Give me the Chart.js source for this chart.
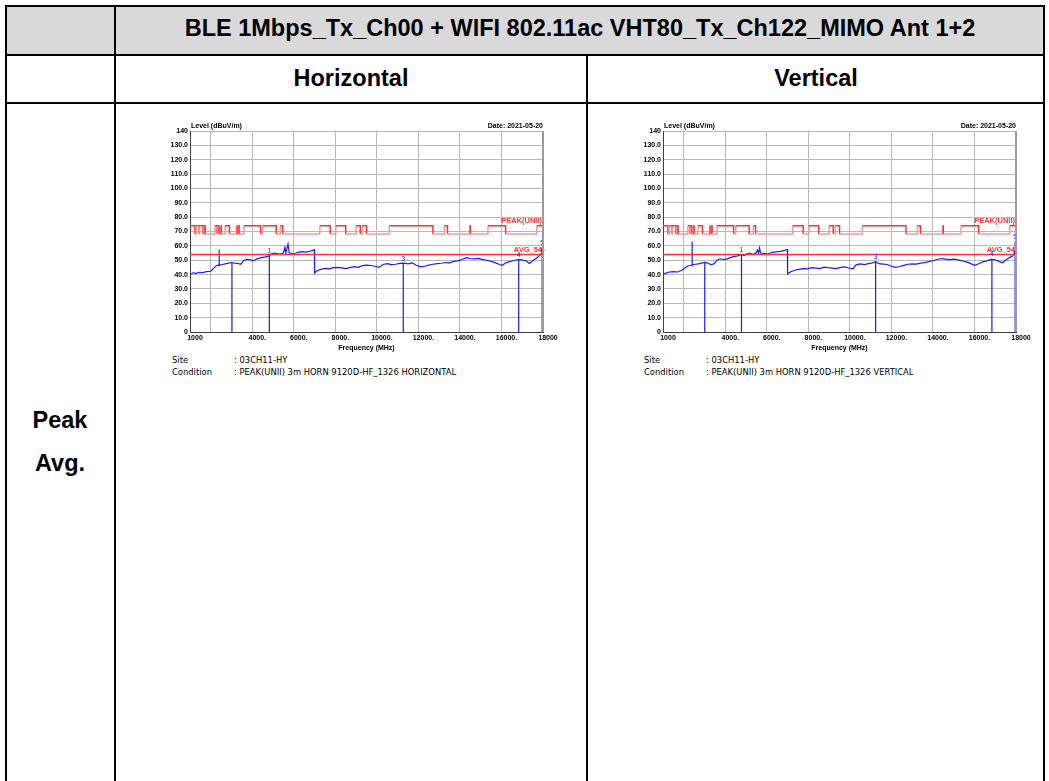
<!DOCTYPE html>
<html lang="en">
<head>
<meta charset="UTF-8">
<title>BLE 1Mbps + WIFI VHT80 radiated emission</title>
<script src="https://cdn.jsdelivr.net/npm/chart.js"></script>
<style>
  body {
    margin: 0;
    width: 1049px;
    height: 781px;
    overflow: hidden;
    background: #fff;
    position: relative;
    font-family: "Liberation Sans", Arial, sans-serif;
  }
  .rule { position: absolute; background: #000; }
  .head { position: absolute; left: 5px; top: 5px; width: 1040px; height: 50px; background: #d9d9d9; }
  .cap {
    position: absolute;
    font-weight: bold;
    font-size: 23.5px;
    text-align: center;
    white-space: nowrap;
  }
  canvas { position: absolute; }
  .info {
    position: absolute;
    font-family: "DejaVu Sans", sans-serif;
    font-size: 8.4px;
    line-height: 12px;
    color: #000;
    white-space: nowrap;
  }
  .info span { display: inline-block; }
  .info .k { width: 62px; }
</style>
</head>
<body>
  <div class="head"></div>

  <!-- table rules -->
  <div class="rule" style="left:5px;top:5px;width:1040px;height:2px"></div>
  <div class="rule" style="left:5px;top:54px;width:1040px;height:2px"></div>
  <div class="rule" style="left:5px;top:102px;width:1040px;height:2px"></div>
  <div class="rule" style="left:5px;top:5px;width:2px;height:776px"></div>
  <div class="rule" style="left:114px;top:5px;width:2px;height:776px"></div>
  <div class="rule" style="left:586px;top:55px;width:2px;height:726px"></div>
  <div class="rule" style="left:1043px;top:5px;width:2px;height:776px"></div>

  <div class="cap" style="left:115px;width:930px;top:15px">BLE 1Mbps_Tx_Ch00 + WIFI 802.11ac VHT80_Tx_Ch122_MIMO Ant 1+2</div>
  <div class="cap" style="left:115px;width:472px;top:65px">Horizontal</div>
  <div class="cap" style="left:587px;width:458px;top:65px">Vertical</div>
  <div class="cap" style="left:5px;width:110px;top:407px">Peak</div>
  <div class="cap" style="left:5px;width:110px;top:450px">Avg.</div>

  <canvas id="horChart" width="420" height="240" style="left:140px;top:112px"></canvas>
  <canvas id="verChart" width="420" height="240" style="left:613px;top:112px"></canvas>

  <div class="info" style="left:172px;top:354px">
    <div><span class="k">Site</span><span id="hSite"></span></div>
    <div><span class="k">Condition</span><span id="hCond"></span></div>
  </div>
  <div class="info" style="left:644px;top:354px">
    <div><span class="k">Site</span><span id="vSite"></span></div>
    <div><span class="k">Condition</span><span id="vCond"></span></div>
  </div>

<script>
// axis ticks
const xTicks = [1000, 2000, 4000, 6000, 8000, 10000, 12000, 14000, 16000, 18000];
const xTickLabels = ['1000', '', '4000.', '6000.', '8000.', '10000.', '12000.', '14000.', '16000.', '18000'];
const yTicks = [0, 10, 20, 30, 40, 50, 60, 70, 80, 90, 100, 110, 120, 130, 140];
const yTickLabels = ['0', '10.0', '20.0', '30.0', '40.0', '50.0', '60.0', '70.0', '80.0', '90.0',
  '100.0', '110.0', '120.0', '130.0', '140'];

// peak limit (UNII), level starts at each edge and holds to the next one
const limitFreq = [1000, 1240, 1300, 1427, 1435, 1626.5, 1645.5, 1646.5, 1660, 1710, 1718.8, 1722.2,
  2200, 2300, 2310, 2390, 2483.5, 2500, 2690, 2900, 3260, 3267, 3332, 3339, 3345.8, 3358,
  3600, 4400, 4500, 5150, 5350, 5460, 7250, 7750, 8025, 8500, 9000, 9200, 9300, 9500,
  10600, 12700, 13250, 13400, 14470, 14500, 15350, 16200, 17700, 18000];
const limitLevel = [74, 68.2, 74, 68.2, 74, 68.2, 74, 68.2, 74, 68.2, 74, 68.2,
  74, 68.2, 74, 68.2, 74, 68.2, 74, 68.2, 74, 68.2, 74, 68.2, 74, 68.2,
  74, 68.2, 74, 68.2, 74, 68.2, 74, 68.2, 74, 68.2, 74, 68.2, 74, 68.2,
  74, 68.2, 74, 68.2, 74, 68.2, 74, 68.2, 74, 74];
const avgLimit = 54;

// horizontal polarisation sweep
const hFreq = [1000, 1150, 1300, 1450, 1600, 1800, 2000, 2150, 2250, 2350, 2400, 2402, 2410, 2550, 2700,
  2850, 3000, 3150, 3300, 3450, 3600, 3750, 3900, 4050, 4200, 4350, 4500, 4650, 4800, 4950,
  5100, 5250, 5400, 5500, 5570, 5620, 5720, 5780, 6000, 6200, 6400, 6600, 6800, 6950, 6990,
  7000, 7100, 7300, 7500, 7700, 7900, 8100, 8300, 8500, 8700, 8900, 9100, 9300, 9500, 9700,
  9900, 10100, 10300, 10500, 10700, 10900, 11100, 11300, 11500, 11700, 11900, 12100, 12300,
  12500, 12700, 12900, 13100, 13300, 13500, 13700, 13900, 14100, 14300, 14500, 14700, 14900,
  15100, 15300, 15500, 15700, 15900, 16050, 16200, 16400, 16600, 16800, 17000, 17200, 17350,
  17500, 17700, 17850, 17950, 18000];
const hLevel = [40.0, 41.2, 40.8, 41.6, 41.3, 42.0, 42.3, 44.5, 46.0, 46.5, 46.2, 57.5, 46.5, 47.0, 47.5,
  48.0, 48.4, 48.0, 47.8, 47.2, 50.0, 50.6, 50.2, 49.5, 50.8, 51.5, 52.0, 52.3, 53.0, 54.6,
  55.0, 54.2, 54.5, 55.2, 59.0, 55.0, 61.3, 55.2, 54.2, 55.5, 56.0, 55.6, 56.4, 57.0, 57.3,
  41.0, 42.5, 43.6, 44.3, 44.0, 44.8, 45.0, 44.6, 44.2, 44.8, 45.5, 45.0, 46.2, 46.6, 46.3,
  45.8, 45.0, 47.0, 47.6, 47.0, 47.2, 47.8, 48.0, 47.5, 48.2, 46.5, 45.4, 45.8,
  46.6, 47.2, 47.6, 47.9, 48.4, 48.2, 49.2, 49.5, 50.5, 51.8, 51.2, 51.0, 51.3,
  50.4, 50.0, 49.2, 48.3, 47.0, 46.5, 48.2, 49.0, 49.8, 50.5, 50.2, 49.5, 47.8,
  49.6, 51.5, 53.5, 55.0, 57.0];
const hMarkFreq = [3020, 4820, 11270, 16830, 17960, 17990];
const hMarkLevel = [48.4, 53.0, 48.0, 50.5, 59.0, 54.0];
const hMarkLabel = ['', '1', '3', '4', '5', '6'];

// vertical polarisation sweep
const vFreq = [1000, 1150, 1300, 1500, 1700, 1900, 2050, 2200, 2350, 2400, 2402, 2410, 2550, 2700,
  2850, 3000, 3150, 3300, 3450, 3600, 3750, 3900, 4050, 4250, 4400, 4600, 4780, 4900, 5050,
  5200, 5350, 5500, 5540, 5600, 5650, 5700, 5900, 6050, 6250, 6450, 6650, 6850, 6990,
  7000, 7150, 7350, 7550, 7750, 7950, 8150, 8350, 8550, 8750, 8950, 9150, 9350, 9550, 9750,
  9950, 10150, 10300, 10500, 10700, 10900, 11100, 11250, 11400, 11600, 11800, 12000, 12200,
  12400, 12600, 12800, 13000, 13200, 13400, 13600, 13800, 14000, 14200, 14400, 14600, 14800,
  15000, 15200, 15400, 15600, 15800, 16000, 16200, 16400, 16600, 16800, 17000, 17200, 17350,
  17500, 17700, 17850, 17950, 18000];
const vLevel = [40.2, 41.0, 41.8, 42.0, 41.8, 43.0, 44.5, 46.0, 46.5, 47.0, 63.0, 46.8, 47.2, 47.5,
  48.0, 48.5, 48.2, 47.0, 47.4, 50.0, 51.0, 50.5, 50.8, 51.8, 52.5, 53.0, 54.0, 53.2, 54.5,
  55.0, 54.0, 55.5, 57.0, 55.0, 58.5, 55.0, 54.6, 54.2, 55.5, 55.8, 56.2, 56.8, 57.5,
  40.5, 42.0, 43.0, 43.6, 44.2, 44.0, 44.8, 44.5, 44.2, 45.2, 44.8, 44.5, 44.2, 45.0, 45.3,
  44.6, 44.0, 46.8, 47.4, 46.9, 47.6, 48.2, 49.0, 47.6, 47.3, 47.0, 45.8, 45.0,
  45.6, 46.4, 47.2, 47.5, 47.3, 48.0, 48.3, 49.0, 49.6, 50.5, 51.2, 50.8, 50.4,
  50.8, 50.2, 49.6, 48.8, 47.8, 46.5, 47.5, 48.8, 49.5, 50.6, 50.3, 49.0, 48.2,
  50.0, 52.0, 53.0, 56.0, 58.0];
const vMarkFreq = [3010, 4780, 11240, 16840, 17960, 17990];
const vMarkLevel = [48.5, 54.0, 49.0, 51.0, 63.0, 52.0];
const vMarkLabel = ['', '1', '3', '4', '5', '6'];

const siteText = ': 03CH11-HY';
const hCondText = ': PEAK(UNII) 3m HORN 9120D-HF_1326 HORIZONTAL';
const vCondText = ': PEAK(UNII) 3m HORN 9120D-HF_1326 VERTICAL';
const levelTitle = 'Level (dBuV/m)';
const dateText = 'Date: 2021-05-20';

const traceBlue = '#1a1aff';
const limitRed = '#ff3030';
const limitPink = '#f59a9a';

document.getElementById('hSite').textContent = siteText;
document.getElementById('vSite').textContent = siteText;
document.getElementById('hCond').textContent = hCondText;
document.getElementById('vCond').textContent = vCondText;

const zip = (xs, ys) => xs.map((x, i) => ({ x: x, y: ys[i] }));

// vertical marker lines from the floor up to the marker level, split by gaps
function markerLines(freqs, levels) {
  const pts = [];
  freqs.forEach((f, i) => {
    pts.push({ x: f, y: 0 }, { x: f, y: levels[i] }, { x: f, y: null });
  });
  return pts;
}

// header texts, limit names and marker numbers
const overlayText = {
  id: 'overlayText',
  afterDatasetsDraw(chart, args, opts) {
    const { ctx, chartArea: a } = chart;
    const x = chart.scales.x, y = chart.scales.y;
    ctx.save();
    ctx.font = 'bold 7px "Liberation Sans"';
    ctx.textBaseline = 'bottom';
    ctx.fillStyle = '#000';
    ctx.textAlign = 'left';
    ctx.fillText(levelTitle, a.left + 1, a.top - 1);
    ctx.textAlign = 'right';
    ctx.fillText(dateText, a.right, a.top - 1);
    ctx.font = 'bold 7.5px "Liberation Sans"';
    ctx.fillStyle = limitRed;
    ctx.fillText('PEAK(UNII)', a.right - 1, y.getPixelForValue(74) - 1);
    ctx.fillText('AVG_' + avgLimit, a.right - 1, y.getPixelForValue(avgLimit) - 1);

    ctx.font = '7px "Liberation Sans"';
    ctx.fillStyle = traceBlue;
    ctx.textAlign = 'center';
    opts.freqs.forEach((f, i) => {
      if (!opts.labels[i]) return;
      ctx.fillText(opts.labels[i], x.getPixelForValue(f), y.getPixelForValue(opts.levels[i]) - 1);
    });

    // heavier grey right edge of the plot frame
    ctx.strokeStyle = '#9a9a9a';
    ctx.lineWidth = 2;
    ctx.beginPath();
    ctx.moveTo(a.right, a.top);
    ctx.lineTo(a.right, a.bottom);
    ctx.stroke();
    ctx.restore();
  }
};

function makeChart(id, freq, level, markFreq, markLevel, markLabel) {
  return new Chart(document.getElementById(id), {
    type: 'line',
    data: {
      datasets: [
        {
          data: zip(limitFreq, limitLevel),
          stepped: 'before',
          borderWidth: 1.5,
          borderColor: limitRed,
          segment: {
            borderColor: c => c.p0.parsed.y > 70 ? limitRed : limitPink
          }
        },
        {
          data: [{ x: 1000, y: avgLimit }, { x: 18000, y: avgLimit }],
          borderWidth: 1.5,
          borderColor: limitRed
        },
        {
          data: markerLines(markFreq, markLevel),
          borderWidth: 1.2,
          borderColor: traceBlue,
          spanGaps: false
        },
        {
          data: zip(freq, level),
          borderWidth: 1.2,
          borderColor: traceBlue
        }
      ]
    },
    options: {
      responsive: false,
      animation: false,
      events: [],
      elements: { point: { radius: 0 }, line: { tension: 0 } },
      layout: { padding: { left: 0, right: 17, top: 19, bottom: 0 } },
      plugins: {
        legend: { display: false },
        tooltip: { enabled: false },
        overlayText: { freqs: markFreq, levels: markLevel, labels: markLabel }
      },
      scales: {
        x: {
          type: 'linear',
          min: 1000,
          max: 18000,
          afterBuildTicks: s => { s.ticks = xTicks.map(v => ({ value: v })); },
          afterFit: s => { s.height = 20; },
          ticks: {
            autoSkip: false,
            maxRotation: 0,
            padding: 2,
            labelOffset: 5,
            color: '#000',
            font: { family: 'Liberation Sans', size: 7, weight: 'bold' },
            callback: (v, i) => xTickLabels[i]
          },
          grid: { color: '#b8b8b8', lineWidth: 1, drawTicks: false },
          border: { color: '#404040', width: 1 },
          title: {
            display: true,
            text: 'Frequency (MHz)',
            color: '#000',
            padding: 0,
            font: { family: 'Liberation Sans', size: 7, weight: 'bold' }
          }
        },
        y: {
          min: 0,
          max: 140,
          afterBuildTicks: s => { s.ticks = yTicks.map(v => ({ value: v })); },
          afterFit: s => { s.width = 50; },
          ticks: {
            padding: 2,
            color: '#000',
            font: { family: 'Liberation Sans', size: 7, weight: 'bold' },
            callback: (v, i) => yTickLabels[i]
          },
          grid: { color: '#b8b8b8', lineWidth: 1, drawTicks: false },
          border: { color: '#404040', width: 1 }
        }
      }
    },
    plugins: [overlayText]
  });
}

makeChart('horChart', hFreq, hLevel, hMarkFreq, hMarkLevel, hMarkLabel);
makeChart('verChart', vFreq, vLevel, vMarkFreq, vMarkLevel, vMarkLabel);
</script>
</body>
</html>
